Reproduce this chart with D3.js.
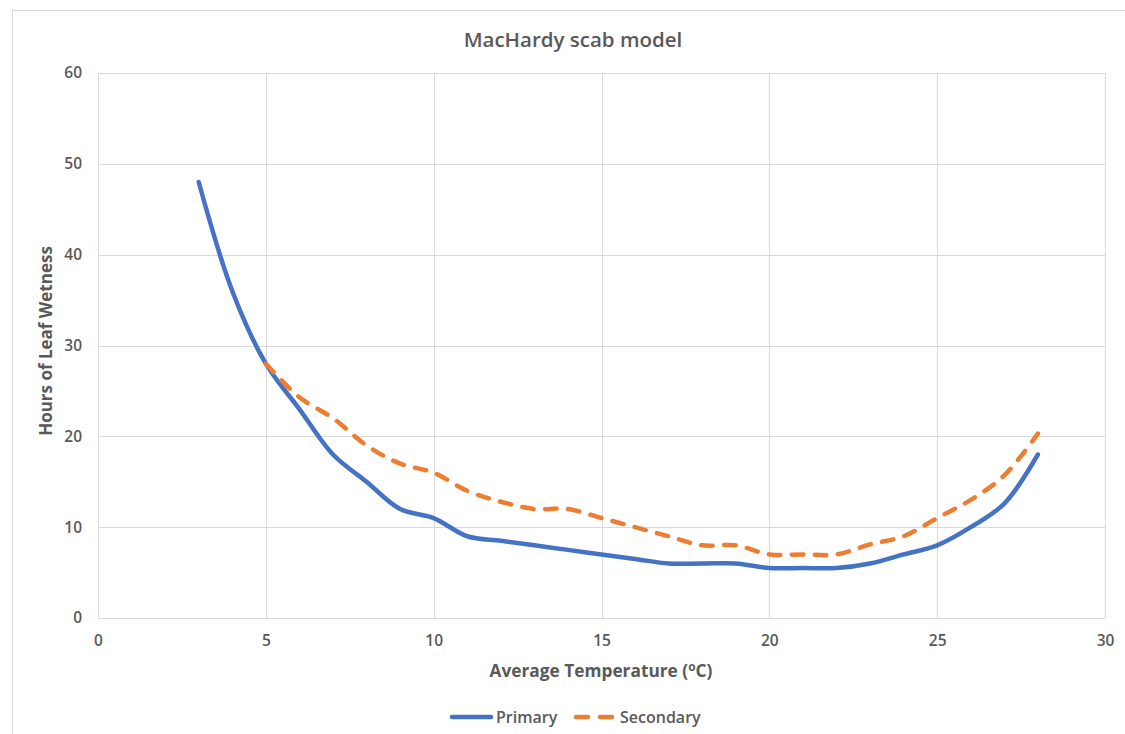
<!DOCTYPE html>
<html><head><meta charset="utf-8">
<script src="https://cdn.jsdelivr.net/npm/d3@7"></script>
<style>body{margin:0;background:#fff;}svg text{font-family:"Open Sans",sans-serif;}</style>
</head><body>
<svg id="c" width="1125" height="734"></svg>
<script>
const title = "MacHardy scab model";
const xTitle = "Average Temperature (";
const yTitle = "Hours of Leaf Wetness";
const xTicks = [0,5,10,15,20,25,30];
const yTicks = [0,10,20,30,40,50,60];
const primaryT = [3,4,5,6,7,8,9,10,11,12,13,14,15,16,17,18,19,20,21,22,23,24,25,26,27,28];
const primaryH = [48,36,28,23,18,15,12,11,9,8.5,8,7.5,7,6.5,6,6,6,5.5,5.5,5.5,6,7,8,10,12.6,18];
const secondaryT = [5,6,7,8,9,10,11,12,13,14,15,16,17,18,19,20,21,22,23,24,25,26,27,28];
const secondaryH = [28,24.3,22,19,17,16,14,12.8,12,12,11,10,9,8,8,7,7,7,8.1,9,11,13,15.7,20.3];
const seriesNames = ["Primary","Secondary"];
const colors = ["#4472C4","#ED7D31"];

const svg = d3.select("#c");
svg.append("rect").attr("x",12.5).attr("y",10.5).attr("width",1125).attr("height",740)
  .attr("fill","#fff").attr("stroke","#d9d9d9");

const x = d3.scaleLinear().domain([0,30]).range([98,1105]);
const y = d3.scaleLinear().domain([0,60]).range([618,73]);

const grid = svg.append("g");
grid.selectAll(".v").data(xTicks).join("line")
  .attr("x1",d=>Math.round(x(d))+0.5).attr("x2",d=>Math.round(x(d))+0.5)
  .attr("y1",y(60)).attr("y2",y(0)).attr("stroke","#d9d9d9").attr("stroke-width",1);
grid.selectAll(".h").data(yTicks).join("line")
  .attr("y1",d=>Math.round(y(d))+0.5).attr("y2",d=>Math.round(y(d))+0.5)
  .attr("x1",x(0)).attr("x2",x(30)).attr("stroke","#d9d9d9").attr("stroke-width",1);

const xAxis = svg.append("g").attr("transform",`translate(0,${y(0)})`)
  .call(d3.axisBottom(x).tickValues(xTicks).tickSize(0).tickPadding(17));
const yAxis = svg.append("g").attr("transform",`translate(${x(0)},0)`)
  .call(d3.axisLeft(y).tickValues(yTicks).tickSize(0).tickPadding(16));
[xAxis,yAxis].forEach(a=>{
  a.select(".domain").remove();
  a.selectAll("text").attr("fill","#595959").attr("font-size",15.5).attr("font-weight",600)
   .style("font-family","'Open Sans',sans-serif");
});

const line = d3.line().x(d=>x(d[0])).y(d=>y(d[1])).curve(d3.curveCatmullRom.alpha(0.5));
const pData = primaryT.map((t,i)=>[t,primaryH[i]]);
const sData = secondaryT.map((t,i)=>[t,secondaryH[i]]);
svg.append("path").datum(pData).attr("d",line).attr("fill","none")
  .attr("stroke",colors[0]).attr("stroke-width",4.5).attr("stroke-linecap","round").attr("stroke-linejoin","round");
svg.append("path").datum(sData).attr("d",line).attr("fill","none")
  .attr("stroke",colors[1]).attr("stroke-width",4.5).attr("stroke-linecap","round")
  .attr("stroke-dasharray","11.5,11.5").attr("stroke-linejoin","round");

svg.append("text").attr("x",573).attr("y",47).attr("text-anchor","middle")
  .attr("fill","#595959").attr("font-size",20.5).attr("font-weight",600).text(title);

const xt = svg.append("text").attr("x",601).attr("y",677).attr("text-anchor","middle")
  .attr("fill","#595959").attr("font-size",17.3).attr("font-weight",700);
xt.append("tspan").text(xTitle);
xt.append("tspan").attr("font-size",12).attr("dy",-6).text("o");
xt.append("tspan").attr("dy",6).text("C)");

svg.append("text").attr("transform","translate(52,341) rotate(-90)").attr("text-anchor","middle")
  .attr("fill","#595959").attr("font-size",17).attr("font-weight",700).text(yTitle);

const leg = svg.append("g");
const legX = [452,576];
seriesNames.forEach((n,i)=>{
  leg.append("line").attr("x1",legX[i]).attr("x2",legX[i]+39).attr("y1",717).attr("y2",717)
    .attr("stroke",colors[i]).attr("stroke-width",4.5).attr("stroke-linecap","round")
    .attr("stroke-dasharray", i===1 ? "12,12" : null);
  leg.append("text").attr("x",legX[i]+44).attr("y",723).attr("fill","#595959")
    .attr("font-size",16).attr("font-weight",600).text(n);
});
</script>
</body></html>
